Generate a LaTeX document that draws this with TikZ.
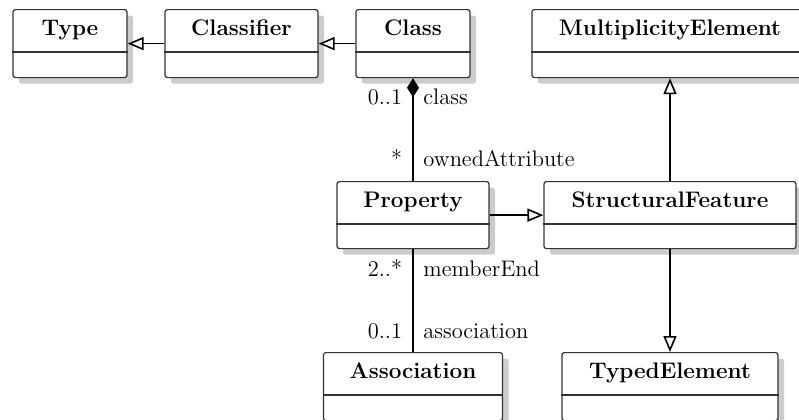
\documentclass[tikz,border=0pt]{standalone}
\usetikzlibrary{arrows.meta,shadows,calc}

\newcommand\umlfont{\fontsize{11.25pt}{13.5pt}\selectfont}

\tikzset{
  umlbox/.style={draw=black!80, line width=0.6pt, rounded corners=1.2pt, fill=white,
    inner sep=0pt, anchor=north,
    drop shadow={shadow xshift=3pt, shadow yshift=-3pt, fill=black!20, opacity=1}},
  umlname/.style={anchor=base, inner sep=0pt, font=\umlfont\bfseries},
  umlrule/.style={draw=black!80, line width=0.6pt},
  rolelabel/.style={anchor=base west, inner sep=0pt, font=\umlfont},
  multlabel/.style={anchor=base east, inner sep=0pt, font=\umlfont},
  gen/.style={line width=0.8pt, -{Triangle[open, length=8pt, width=6.5pt, fill=white]}},
  genthick/.style={line width=1.2pt, -{Triangle[open, length=8pt, width=6.5pt, fill=white, line width=0.8pt]}},
  compose/.style={line width=1.2pt, {Diamond[length=9.5pt, width=6pt]}-},
  assoc/.style={line width=1.2pt},
}

% class box: id, name, centre x, top y, width, height (all in px units)
\newcommand\umlclass[6]{%
  \node[umlbox, minimum width=#5*0.5pt, minimum height=#6*0.5pt] (#1) at (#3,#4) {};
  \node[umlname] (#1-name) at ($(#1.north)+(0,26.5)$) {#2};
  \draw[umlrule] ($(#1.north west)+(0,43)$) -- ($(#1.north east)+(0,43)$);
}

\begin{document}
\begin{tikzpicture}[x=0.5pt, y=-0.5pt]
  \path[use as bounding box, clip] (0,0) rectangle (799,419);

  % classes
  \umlclass{type}{Type}{70}{9}{114}{68}
  \umlclass{classifier}{Classifier}{241.5}{9}{153}{68}
  \umlclass{class}{Class}{413}{9}{114}{68}
  \umlclass{multel}{MultiplicityElement}{670}{9}{276}{68}
  \umlclass{property}{Property}{413}{181}{152}{67}
  \umlclass{structfeat}{StructuralFeature}{670}{181}{252}{67}
  \umlclass{association}{Association}{413}{352}{179}{68}
  \umlclass{typedel}{TypedElement}{670}{352}{216}{68}

  % generalisations
  \draw[gen] (classifier) -- (type);
  \draw[gen] (class) -- (classifier);
  \draw[gen] (structfeat.north) -- (multel.south);
  \draw[genthick] (property) -- (structfeat);
  \draw[genthick] (structfeat.south) -- (typedel.north);

  % composition Class <>-- Property
  \draw[compose] (class.south) -- (property.north);
  \node[multlabel] (cls-mult) at (402.5,104) {0..1};
  \node[rolelabel] (cls-role) at (423,104) {class};
  \node[multlabel] (own-mult) at (402.5,166.5) {*};
  \node[rolelabel] (own-role) at (423,166.5) {ownedAttribute};

  % association Property -- Association
  \draw[assoc] (property.south) -- (association.north);
  \node[multlabel] (mem-mult) at (402.5,276) {2..*};
  \node[rolelabel] (mem-role) at (423,276) {memberEnd};
  \node[multlabel] (asc-mult) at (402.5,338) {0..1};
  \node[rolelabel] (asc-role) at (423,338) {association};
\end{tikzpicture}
\end{document}
